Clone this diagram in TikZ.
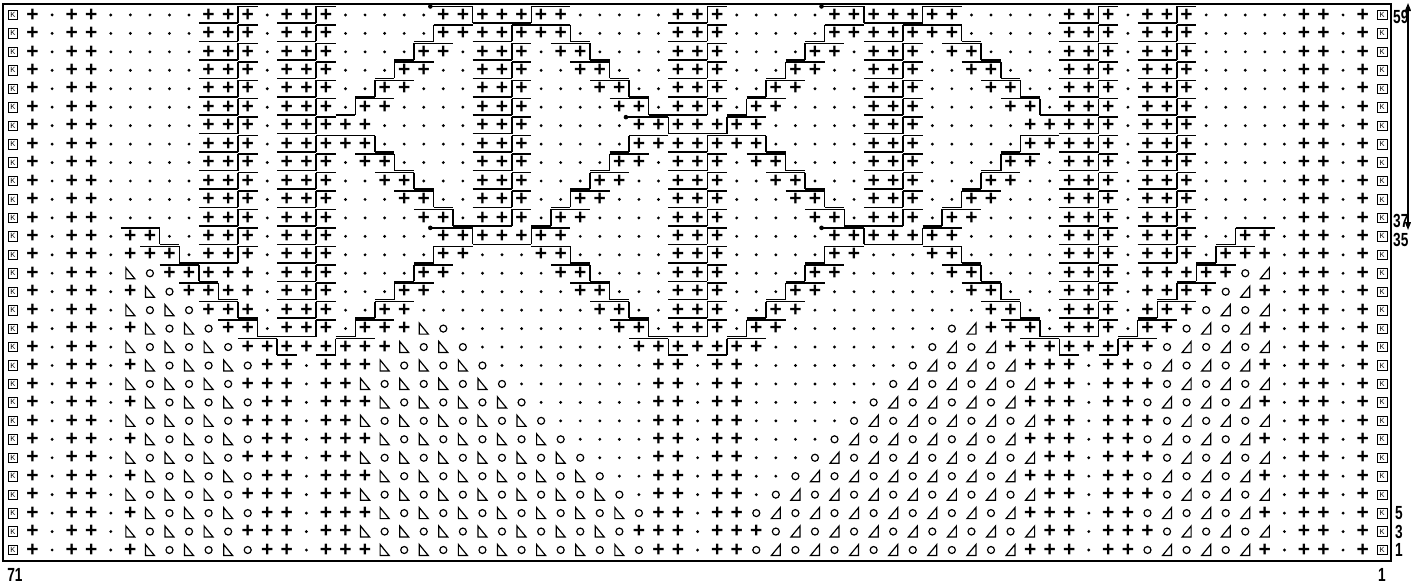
\documentclass[tikz,border=0pt]{standalone}
\usepackage{fontspec}
\setmainfont{Liberation Sans}
\newfontfamily\numfont[FakeStretch=0.72]{Liberation Sans}
\usetikzlibrary{arrows.meta}

\tikzset{
  knit/.style={inner sep=0pt, font=\fontsize{21}{21}\selectfont\bfseries},
  purl/.style={circle, fill=black, inner sep=0pt, minimum size=3.2pt},
  yarnover/.style={circle, draw, line width=1.2pt, inner sep=0pt, minimum size=7pt},
  edgest/.style={draw, line width=0.7pt, inner sep=0pt, minimum size=9.5pt, font=\fontsize{7.5}{7.5}\selectfont},
  cabline/.style={line width=1.5pt},
  decr/.style={line width=1.2pt, line join=miter},
  rownum/.style={font=\numfont\fontsize{19}{19}\selectfont\bfseries, inner sep=0pt, anchor=west},
  repeat/.style={line width=1.2pt, {Triangle[length=8pt,width=6pt]}-{Triangle[length=8pt,width=6pt]}}
}

% one chart row: #1 = row number, #2 = one letter per stitch
% e edge, k knit, p purl, y yarn over, a/b decreases,
% u/q knit/purl under, v knit over, V over with start dot, | crossing
\makeatletter
\newcount\knitcol
\newcommand\knitrow[2]{%
  \global\knitcol=0
  \edef\knitrnum{#1}%
  \pgfmathsetmacro\knity{550-(#1-1)/2*18.45}%
  \@tfor\knitch:=#2\do{\csname knit@\knitch\endcsname}%
}
\newcommand\knitnext{%
  \global\advance\knitcol by 1
  \pgfmathsetmacro\knitx{13+(\the\knitcol-1)*19.56}%
  \edef\knitname{c-\knitrnum-\the\knitcol}%
}
\@namedef{knit@e}{\knitnext\node[edgest] (\knitname) at (\knitx,\knity) {K};}
\@namedef{knit@k}{\knitnext\node[knit] (\knitname) at (\knitx,\knity) {+};}
\@namedef{knit@p}{\knitnext\node[purl] (\knitname) at (\knitx,\knity) {};}
\@namedef{knit@y}{\knitnext\node[yarnover] (\knitname) at (\knitx,\knity) {};}
\@namedef{knit@a}{\knitnext\coordinate (\knitname) at (\knitx,\knity);
  \draw[decr] (\knitname) ++(-4.5,-5.5) -- ++(0,11) -- ++(9,0) -- cycle;}
\@namedef{knit@b}{\knitnext\coordinate (\knitname) at (\knitx,\knity);
  \draw[decr] (\knitname) ++(4.5,-5.5) -- ++(0,11) -- ++(-9,0) -- cycle;}
\@namedef{knit@u}{\knit@k\draw[cabline] (\knitname.center) ++(-9.78,8) -- ++(19.56,0);}
\@namedef{knit@q}{\knit@p\draw[cabline] (\knitname.center) ++(-9.78,8) -- ++(19.56,0);}
\@namedef{knit@v}{\knit@k\draw[cabline] (\knitname.center) ++(-9.78,-8.5) -- ++(19.56,0);}
\@namedef{knit@V}{\knit@k\draw[cabline] (\knitname.center) ++(-13,-8.5) -- ++(22.78,0);
  \fill (\knitname.center) ++(-13,-8.5) circle (2.3);}
\@namedef{knit@|}{\pgfmathsetmacro\knitbx{13+(\the\knitcol-0.5)*19.56}%
  \draw[cabline] (\knitbx,\knity-8.5) -- (\knitbx,\knity+8);}
\makeatother

\begin{document}
\begin{tikzpicture}[x=1pt, y=-1pt]
  \useasboundingbox (0,0) rectangle (1411,584);
  \draw[line width=1.6pt] (3,4) rectangle (1391,561);

  % upper repeat
  \knitrow{59}{ekpkk ppppp uu|v p uu|v ppppp Vv|uuu|vv ppppp uu|v ppppp Vv|uuu|vv ppppp uu|v p uu|v ppppp kkpke}
  \knitrow{57}{ekpkk ppppp uu|v p uu|v pppp q|vv uu|v vv|q pppp uu|v pppp q|vv uu|v vv|q pppp uu|v p uu|v ppppp kkpke}
  \knitrow{55}{ekpkk ppppp uu|v p uu|v ppp q|vv p uu|v p vv|q ppp uu|v ppp q|vv p uu|v p vv|q ppp uu|v p uu|v ppppp kkpke}
  \knitrow{53}{ekpkk ppppp uu|v p uu|v pp q|vv pp uu|v pp vv|q pp uu|v pp q|vv pp uu|v pp vv|q pp uu|v p uu|v ppppp kkpke}
  \knitrow{51}{ekpkk ppppp uu|v p uu|v p q|vv ppp uu|v ppp vv|q p uu|v p q|vv ppp uu|v ppp vv|q p uu|v p uu|v ppppp kkpke}
  \knitrow{49}{ekpkk ppppp uu|v p uu|v q|vv pppp uu|v pppp vv|q uu|v q|vv pppp uu|v pppp vv|q uu|v p uu|v ppppp kkpke}
  \knitrow{47}{ekpkk ppppp uu|v p uu|v kk ppppp uu|v ppppp Vv|uuu|vv ppppp uu|v ppppp kk uu|v p uu|v ppppp kkpke}
  \knitrow{45}{ekpkk ppppp uu|v p uu|v vv|q pppp uu|v pppp q|vv uu|v vv|q pppp uu|v pppp q|vv uu|v p uu|v ppppp kkpke}
  \knitrow{43}{ekpkk ppppp uu|v p uu|v p vv|q ppp uu|v ppp q|vv p uu|v p vv|q ppp uu|v ppp q|vv p uu|v p uu|v ppppp kkpke}
  \knitrow{41}{ekpkk ppppp uu|v p uu|v pp vv|q pp uu|v pp q|vv pp uu|v pp vv|q pp uu|v pp q|vv pp uu|v p uu|v ppppp kkpke}
  \knitrow{39}{ekpkk ppppp uu|v p uu|v ppp vv|q p uu|v p q|vv ppp uu|v ppp vv|q p uu|v p q|vv ppp uu|v p uu|v ppppp kkpke}
  \knitrow{37}{ekpkk ppppp uu|v p uu|v pppp vv|q uu|v q|vv pppp uu|v pppp vv|q uu|v q|vv pppp uu|v p uu|v ppppp kkpke}
  % transition
  \knitrow{35}{ekpkk p vv|q p uu|v p uu|v ppppp Vv|uuu|vv ppppp uu|v ppppp Vv|uuu|vv ppppp uu|v p uu|v p q|vv p kkpke}
  \knitrow{33}{ekpkk p k vv|q uu|v p uu|v pppp q|vv ppp vv|q pppp uu|v pppp q|vv ppp vv|q pppp uu|v p uu|v q|vv k p kkpke}
  \knitrow{31}{ekpkk p ay vv|u kk p uu|v ppp q|vv ppppp vv|q ppp uu|v ppp q|vv ppppp vv|q ppp uu|v p kk u|vv yb p kkpke}
  \knitrow{29}{ekpkk p k ay vv|u k p uu|v pp q|vv ppppppp vv|q pp uu|v pp q|vv ppppppp vv|q pp uu|v p k u|vv yb k p kkpke}
  \knitrow{27}{ekpkk p ayay vv|u p uu|v p q|vv ppppppppp vv|q p uu|v p q|vv ppppppppp vv|q p uu|v p u|vv ybyb p kkpke}
  \knitrow{25}{ekpkk p k ayay vv|q uu|v q|vv k ay pppppppp vv|q uu|v q|vv pppppppp yb k vv|q uu|v q|vv ybyb k p kkpke}
  \knitrow{23}{ekpkk p ayayay vv|uku|vv k ayay pppppppp vv|uku|vv pppppppp ybyb k vv|uku|vv ybybyb p kkpke}
  % lace
  \knitrow{21}{ekpkk p k ayayay kk p kkk ayayay pppppppp kk p kk pppppppp ybybyb kkk p kk ybybyb k p kkpke}
  \knitrow{19}{ekpkk p ayayay kkk p kk ayayayay ppppppp kk p kk ppppppp ybybybyb kk p kkk ybybyb p kkpke}
  \knitrow{17}{ekpkk p k ayayay kk p kkk ayayayay pppppp kk p kk pppppp ybybybyb kkk p kk ybybyb k p kkpke}
  \knitrow{15}{ekpkk p ayayay kkk p kk ayayayayay ppppp kk p kk ppppp ybybybybyb kk p kkk ybybyb p kkpke}
  \knitrow{13}{ekpkk p k ayayay kk p kkk ayayayayay pppp kk p kk pppp ybybybybyb kkk p kk ybybyb k p kkpke}
  \knitrow{11}{ekpkk p ayayay kkk p kk ayayayayayay ppp kk p kk ppp ybybybybybyb kk p kkk ybybyb p kkpke}
  \knitrow{9}{ekpkk p k ayayay kk p kkk ayayayayayay pp kk p kk pp ybybybybybyb kkk p kk ybybyb k p kkpke}
  \knitrow{7}{ekpkk p ayayay kkk p kk ayayayayayayay p kk p kk p ybybybybybybyb kk p kkk ybybyb p kkpke}
  \knitrow{5}{ekpkk p k ayayay kk p kkk ayayayayayayay kk p kk ybybybybybybyb kkk p kk ybybyb k p kkpke}
  \knitrow{3}{ekpkk p ayayay kkk p kk ayayayayayayay kkk p kkk ybybybybybybyb kk p kkk ybybyb p kkpke}
  \knitrow{1}{ekpkk p k ayayay kk p kkk ayayayayayayay kk p kk ybybybybybybyb kkk p kk ybybyb k p kkpke}

  % row and stitch numbers
  \node[rownum] (n59) at (1393,17) {59};
  \node[rownum] (n37) at (1393,221) {37};
  \node[rownum] (n35) at (1393,240) {35};
  \node[rownum] (n5) at (1395,513) {5};
  \node[rownum] (n3) at (1395,532) {3};
  \node[rownum] (n1) at (1395,550) {1};
  \node[rownum, anchor=center] (w71) at (15,575) {71};
  \node[rownum, anchor=center] (w1) at (1382,575) {1};
  \coordinate (rep-top) at (1408,3);
  \coordinate (rep-bot) at (1408,230);
  \draw[repeat] (rep-top) -- (rep-bot);
\end{tikzpicture}
\end{document}
